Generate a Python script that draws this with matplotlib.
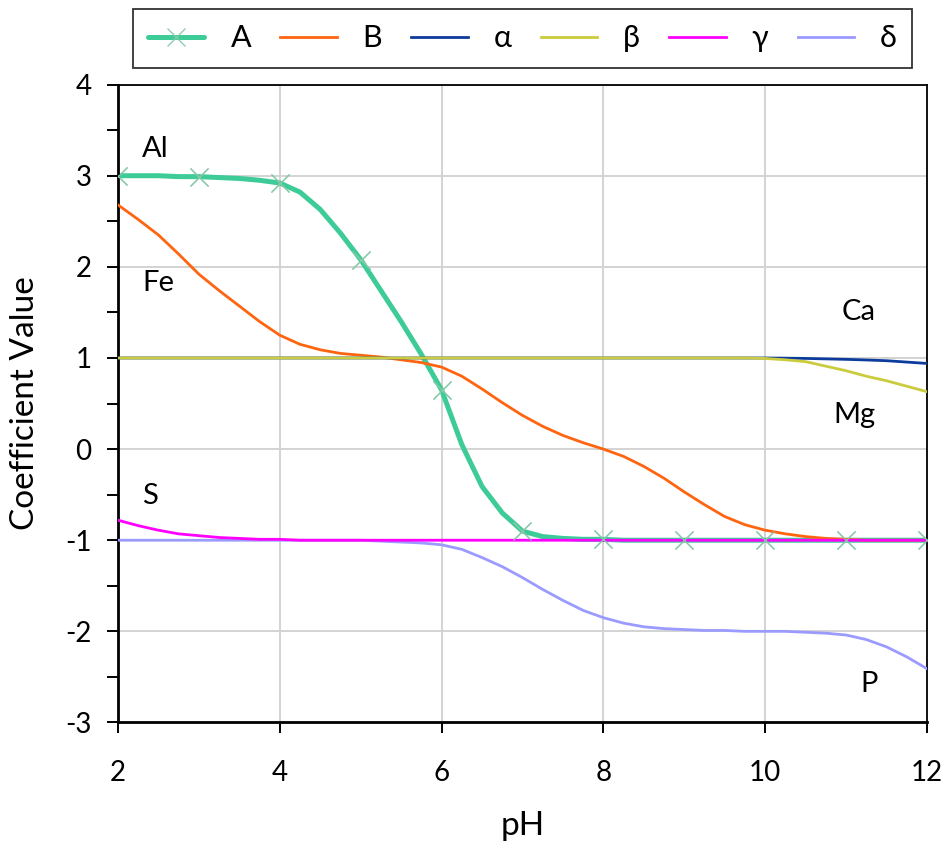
import matplotlib
matplotlib.use('Agg')
import matplotlib.pyplot as plt
import numpy as np

plt.rcParams['font.family'] = ['Lato', 'DejaVu Sans']
plt.rcParams['axes.unicode_minus'] = False

# pH grid, quarter steps
ph = np.arange(2, 12.01, 0.25)

# values
A = [3.00, 3.00, 3.00, 2.99, 2.99, 2.98, 2.97, 2.95, 2.92, 2.82, 2.63, 2.37,
     2.08, 1.74, 1.40, 1.04, 0.65, 0.05, -0.41, -0.70, -0.90, -0.96, -0.98,
     -0.99, -0.99, -1.0, -1.0, -1.0, -1.0, -1.0, -1.0, -1.0, -1.0, -1.0,
     -1.0, -1.0, -1.0, -1.0, -1.0, -1.0, -1.0]
B = [2.68, 2.52, 2.35, 2.14, 1.92, 1.74, 1.57, 1.40, 1.25, 1.15, 1.09, 1.05,
     1.03, 1.01, 0.98, 0.95, 0.90, 0.80, 0.66, 0.51, 0.37, 0.25, 0.15, 0.07,
     0.0, -0.08, -0.19, -0.32, -0.47, -0.61, -0.74, -0.83, -0.89, -0.93,
     -0.96, -0.98, -0.99, -1.0, -1.0, -1.0, -1.0]
alpha = [1.0] * 33 + [0.998, 0.995, 0.99, 0.985, 0.978, 0.97, 0.955, 0.94]
beta = [1.0] * 32 + [0.995, 0.98, 0.96, 0.91, 0.86, 0.80, 0.75, 0.69, 0.63]
gamma = [-0.78, -0.84, -0.89, -0.93, -0.95, -0.97, -0.98, -0.99, -0.99] + [-1.0] * 32
delta = [-1.0] * 13 + [-1.01, -1.02, -1.03, -1.05, -1.10, -1.19, -1.29, -1.41,
                       -1.54, -1.66, -1.77, -1.85, -1.91, -1.95, -1.97, -1.98,
                       -1.99, -1.99, -2.0, -2.0, -2.0, -2.01, -2.02, -2.04,
                       -2.09, -2.17, -2.28, -2.41]

element_labels = ['Al', 'Fe', 'S', 'Ca', 'Mg', 'P']
label_x = [2.30, 2.30, 2.30, 11.16, 11.10, 11.28]
label_y = [3.29, 1.82, -0.51, 1.51, 0.37, -2.58]
label_ha = ['left', 'left', 'left', 'center', 'center', 'center']

fig = plt.figure(figsize=(9.49, 8.46), dpi=100)
ax = fig.add_axes([0.1243, 0.146, 0.8525, 0.754])

green = '#3DCB98'
mk = dict(marker='x', markersize=13, markeredgewidth=0.9,
          markeredgecolor='#86C9A8')
ax.plot(ph, A, color=green, lw=3.6, zorder=2, label='A', markevery=4,
        solid_capstyle='round', **mk)
ax.plot(ph, B, color='#FF6410', lw=2.0, zorder=3, label='B')
ax.plot(ph, alpha, color='#0D3B9C', lw=2.0, zorder=3, label='α')
ax.plot(ph, beta, color='#CBCB3E', lw=2.0, zorder=4, label='β')
ax.plot(ph, delta, color='#9B9BFF', lw=2.0, zorder=4, label='δ')
ax.plot(ph, gamma, color='#FF00FF', lw=2.0, zorder=5, label='γ')
# markers of A on top
ax.plot(ph[::4], A[::4], ls='none', zorder=6, **mk)

for t, x, y, ha in zip(element_labels, label_x, label_y, label_ha):
    ax.text(x, y, t, fontsize=21, ha=ha, va='center', zorder=7)

ax.set_xlim(2, 12)
ax.set_ylim(-3, 4)
ax.set_xticks([2, 4, 6, 8, 10, 12])
ax.set_yticks(range(-3, 5))
ax.set_yticks(np.arange(-2.5, 4, 1.0), minor=True)
ax.grid(True, color='#D3D3D3', lw=1.4, zorder=0)
ax.set_axisbelow(True)
ax.tick_params(axis='both', which='major', direction='out', length=8,
               width=1.4, labelsize=20)
ax.tick_params(axis='y', which='minor', direction='out', length=8, width=1.4)
ax.tick_params(axis='x', pad=19)
ax.tick_params(axis='y', pad=11)
for s in ax.spines.values():
    s.set_color('black')
    s.set_linewidth(1.3)
ax.spines['left'].set_linewidth(2.0)
ax.spines['bottom'].set_linewidth(2.0)

ax.set_xlabel('pH', fontsize=24, labelpad=18)
ax.set_ylabel('Coefficient Value', fontsize=24, labelpad=18)

handles, labels = ax.get_legend_handles_labels()
order = ['A', 'B', 'α', 'β', 'γ', 'δ']
hmap = dict(zip(labels, handles))
leg = fig.legend([hmap[k] for k in order], order, loc='center',
                 bbox_to_anchor=(0.5505, 0.9545), ncol=6, fontsize=22,
                 frameon=True, fancybox=False, edgecolor='black',
                 handlelength=1.85, columnspacing=0.95, handletextpad=0.85,
                 borderpad=0.5)
leg.get_frame().set_linewidth(1.3)

fig.savefig('out.png', dpi=100)
